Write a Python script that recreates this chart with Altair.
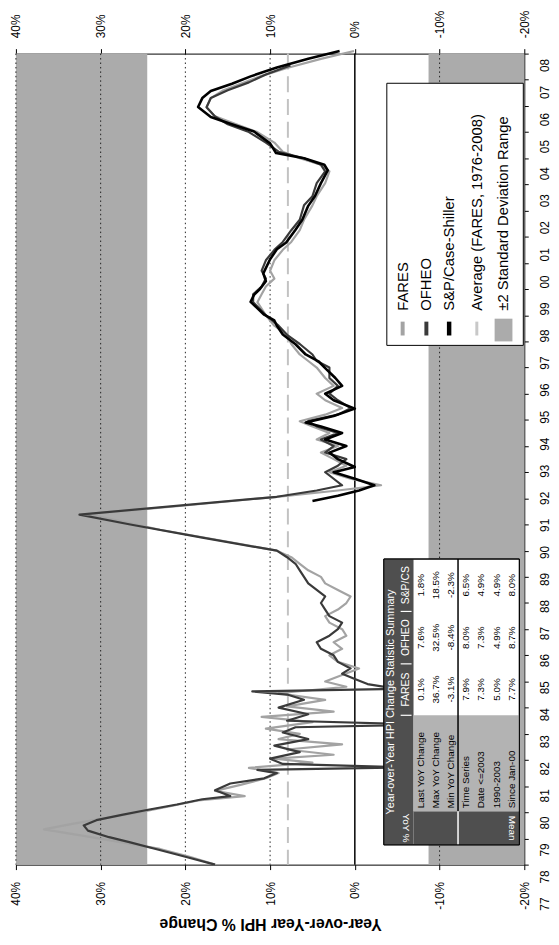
import altair as alt
import pandas as pd

FONT = "Liberation Sans"

# ---------------- data ----------------
pct_ticks = [-20, -10, 0, 10, 20, 30, 40]
grid_values = [40, 30, 20, 10, -10]
year_ticks = list(range(1977, 2009))
year_labels = [str(y)[2:] for y in year_ticks]
value_domain = [-20, 40]
year_domain = [1977, 2008]

average_fares = 7.9
band_low = -8.7
band_high = 24.5

# [year, YoY %]
fares = [
    [1977.0, 16.5], [1977.3, 19.5], [1977.6, 23.0], [1977.85, 27.5], [1978.1, 32.0], [1978.35, 36.7],
    [1978.55, 33.5], [1978.75, 30.0], [1979.0, 25.5], [1979.25, 21.5], [1979.45, 18.5], [1979.62, 13.0],
    [1979.82, 16.5], [1980.05, 13.5], [1980.3, 10.5], [1980.5, 9.0], [1980.7, 12.5], [1980.9, 5.0],
    [1981.05, 9.5], [1981.2, 2.5], [1981.4, 8.0], [1981.6, 1.5], [1981.8, 9.0], [1982.0, 6.5],
    [1982.2, 10.5], [1982.45, 5.0], [1982.65, 11.0], [1982.85, 2.5], [1983.05, 8.0], [1983.3, 3.5],
    [1983.55, 9.0], [1983.8, 1.0], [1984.0, 3.5], [1984.25, 1.5], [1984.5, -0.5], [1984.75, 2.0],
    [1985.0, 3.0], [1985.25, 1.5], [1985.5, 2.5], [1985.75, 1.0], [1986.0, 1.5], [1986.25, 3.0],
    [1986.5, 3.5], [1986.75, 2.0], [1987.0, 1.0], [1987.25, 0.5], [1987.5, 2.0], [1987.75, 3.5],
    [1988.0, 4.0], [1988.25, 5.5], [1988.5, 6.5], [1988.75, 7.5], [1989.0, 9.2], [1989.4, 16.0],
    [1989.8, 23.0], [1990.4, 31.5], [1990.7, 21.0], [1991.06, 9.2], [1991.3, 2.0], [1991.5, -3.1],
    [1991.75, 0.5], [1992.0, 3.0], [1992.25, 1.0], [1992.5, 2.5], [1992.75, 4.0], [1993.0, 2.0],
    [1993.25, 4.5], [1993.5, 3.0], [1993.75, 5.0], [1993.95, 6.5], [1994.2, 3.5], [1994.45, 1.5],
    [1994.75, 3.5], [1995.0, 4.5], [1995.3, 2.5], [1995.6, 3.5], [1996.0, 4.5], [1996.25, 5.5],
    [1996.5, 6.5], [1996.9, 7.5], [1997.25, 8.0], [1997.6, 9.5], [1998.0, 10.5], [1998.5, 11.5],
    [1998.8, 11.0], [1999.1, 10.5], [1999.4, 9.5], [1999.7, 10.0], [2000.1, 9.5], [2000.5, 8.5],
    [2000.8, 7.5], [2001.25, 6.5], [2001.65, 6.0], [2002.2, 5.0], [2002.55, 4.5], [2003.05, 3.5],
    [2003.5, 3.0], [2003.75, 4.0], [2004.0, 6.5], [2004.25, 8.5], [2004.6, 9.5], [2005.0, 11.5],
    [2005.3, 14.0], [2005.6, 16.5], [2005.95, 17.5], [2006.3, 17.0], [2006.6, 15.5], [2006.9, 13.0],
    [2007.15, 11.0], [2007.45, 8.0], [2007.8, 4.0], [2008.1, 0.1],
]

ofheo = [
    [1977.0, 16.5], [1977.3, 20.0], [1977.6, 23.5], [1977.85, 26.5], [1978.05, 29.0], [1978.3, 31.5],
    [1978.5, 32.0], [1978.7, 30.5], [1978.9, 27.5], [1979.1, 24.4], [1979.3, 21.0], [1979.5, 18.0],
    [1979.62, 14.7], [1979.84, 16.5], [1980.1, 14.7], [1980.3, 10.7], [1980.5, 9.2], [1980.62, 11.5],
    [1980.72, -6.0], [1980.85, 8.5], [1981.05, 10.0], [1981.3, 6.5], [1981.55, 9.5], [1981.8, 5.5],
    [1982.05, 8.5], [1982.25, 7.0], [1982.35, -8.4], [1982.5, 8.0], [1982.75, 5.5], [1983.0, 9.0],
    [1983.3, 6.0], [1983.5, 8.0], [1983.62, 12.1], [1983.72, -5.0], [1983.9, -1.5], [1984.1, 0.0],
    [1984.3, 1.5], [1984.5, 0.5], [1984.75, 2.0], [1985.0, 2.5], [1985.25, 4.0], [1985.5, 4.5],
    [1985.75, 3.0], [1986.0, 2.0], [1986.25, 1.5], [1986.5, 3.0], [1986.75, 3.5], [1987.0, 4.0],
    [1987.25, 3.5], [1987.5, 4.5], [1987.75, 5.5], [1988.0, 6.0], [1988.25, 6.5], [1988.5, 7.0],
    [1988.75, 8.0], [1989.0, 9.2], [1989.5, 18.0], [1990.0, 26.5], [1990.38, 32.5], [1991.06, 9.2],
    [1991.3, 4.5], [1991.5, 1.5], [1991.75, 2.5], [1992.0, 3.5], [1992.25, 2.0], [1992.5, 1.0],
    [1992.75, 3.5], [1993.0, 2.5], [1993.25, 4.0], [1993.5, 2.0], [1993.75, 4.5], [1993.95, 5.5],
    [1994.2, 2.0], [1994.45, 0.5], [1994.75, 2.0], [1995.0, 3.0], [1995.3, 2.0], [1995.6, 3.0],
    [1996.0, 3.0], [1996.25, 4.5], [1996.5, 5.0], [1996.9, 6.5], [1997.25, 8.0], [1997.6, 9.0],
    [1998.0, 10.5], [1998.5, 12.0], [1998.8, 12.0], [1999.1, 11.0], [1999.4, 10.5], [1999.7, 11.0],
    [2000.1, 10.5], [2000.5, 9.5], [2000.8, 8.5], [2001.25, 7.5], [2001.65, 6.5], [2002.2, 6.0],
    [2002.55, 5.0], [2003.05, 4.5], [2003.5, 3.5], [2003.75, 4.0], [2004.0, 6.0], [2004.25, 9.0],
    [2004.6, 10.5], [2005.0, 12.5], [2005.3, 15.0], [2005.6, 16.5], [2005.95, 17.5], [2006.3, 17.0],
    [2006.6, 15.0], [2006.9, 12.5], [2007.2, 10.5], [2007.55, 7.6],
]

spcs = [
    [1990.9, 5.0], [1991.1, 2.0], [1991.3, -0.5], [1991.5, -2.3], [1991.75, 0.0], [1992.0, 2.5],
    [1992.2, 0.0], [1992.5, 2.0], [1992.75, 3.0], [1993.0, 1.0], [1993.25, 3.5], [1993.5, 1.5],
    [1993.75, 4.0], [1993.9, 5.8], [1994.15, 2.5], [1994.43, 0.0], [1994.75, 2.5], [1995.0, 3.5],
    [1995.3, 1.5], [1995.6, 2.3], [1995.98, 3.5], [1996.24, 4.3], [1996.5, 5.8], [1996.89, 7.0],
    [1997.26, 8.5], [1997.6, 9.2], [1997.8, 9.5], [1998.02, 10.7], [1998.51, 12.3], [1998.78, 11.9],
    [1999.0, 11.2], [1999.3, 10.5], [1999.6, 10.8], [2000.14, 10.0], [2000.52, 9.2], [2000.78, 8.1],
    [2001.27, 7.0], [2001.65, 6.2], [2002.18, 5.5], [2002.56, 4.7], [2003.05, 4.0], [2003.54, 3.2],
    [2003.75, 3.6], [2004.0, 6.0], [2004.2, 9.3], [2004.57, 10.0], [2005.02, 11.9], [2005.32, 14.7],
    [2005.58, 17.0], [2005.96, 18.5], [2006.3, 18.0], [2006.57, 17.0], [2006.85, 14.5], [2007.13, 12.3],
    [2007.47, 9.2], [2007.8, 5.5], [2008.1, 1.8],
]

legend_names = ["FARES", "OFHEO", "S&P/Case-Shiller", "Average (FARES, 1976-2008)",
                "\u00b12 Standard Deviation Range"]

table_title = "Year-over-Year HPI Change Statistic Summary"
table_columns = ["FARES", "OFHEO", "S&P/CS"]
table_groups = ["YoY %", "Mean"]
table_row_labels = ["Last YoY Change", "Max YoY Change", "Min YoY Change",
                    "Time Series", "Date <=2003", "1990-2003", "Since Jan-00"]
table_values = [
    ["0.1%", "7.6%", "1.8%"],
    ["36.7%", "32.5%", "18.5%"],
    ["-3.1%", "-8.4%", "-2.3%"],
    ["7.9%", "8.0%", "6.5%"],
    ["7.3%", "7.3%", "4.9%"],
    ["5.0%", "4.9%", "4.9%"],
    ["7.7%", "8.7%", "8.0%"],
]

# ---------------- layout ----------------
W, H = 514, 820
PLOT_LEFT, PLOT_TOP = 16, 49  # page pixels of plot origin


def vx(px):
    return value_domain[1] - (px - PLOT_LEFT) * (value_domain[1] - value_domain[0]) / W


def ty(py):
    return year_domain[1] - (py - PLOT_TOP) * (year_domain[1] - year_domain[0]) / H


xs = alt.Scale(domain=value_domain, reverse=True, nice=False, zero=False)
ys = alt.Scale(domain=year_domain, nice=False, zero=False)

pct_axis_common = dict(
    values=pct_ticks, labelExpr="datum.value + '%'", labelAngle=270, labelFont=FONT,
    labelFontSize=12, labelColor="black", tickSize=5, tickColor="black", domainColor="black",
    domainWidth=1, grid=False, labelFlush=False, labelOverlap=False, labelBaseline="middle",
)
bottom_axis = alt.Axis(
    orient="bottom", labelAlign="right", labelPadding=12,
    title="Year-over-Year HPI % Change", titleAngle=180, titleBaseline="bottom", titleAlign="center",
    titleFont=FONT, titleFontSize=16, titleFontWeight="bold", titleColor="black", titlePadding=6,
    **pct_axis_common,
)
top_axis = alt.Axis(orient="top", labelAlign="left", labelPadding=11, title=None, **pct_axis_common)
year_axis = alt.Axis(
    orient="right", values=year_ticks, labels=False, tickSize=4, tickColor="black",
    domainColor="black", domainWidth=1, grid=False, title=None,
)

layers = []

# shaded +-2 std dev zones (carries bottom and right axes)
band_df = pd.DataFrame({"x1": [band_high, value_domain[0]], "x2": [value_domain[1], band_low],
                        "y1": [year_domain[0]] * 2, "y2": [year_domain[1]] * 2})
layers.append(alt.Chart(band_df).mark_rect(fill="#ababab").encode(
    x=alt.X("x1:Q", scale=xs, axis=bottom_axis), x2="x2:Q",
    y=alt.Y("y1:Q", scale=ys, axis=year_axis), y2="y2:Q"))

# dotted grid (carries top axis)
grid_df = pd.DataFrame({"g": grid_values})
layers.append(alt.Chart(grid_df).mark_rule(color="#222222", strokeWidth=1, strokeDash=[1.5, 3]).encode(
    x=alt.X("g:Q", scale=xs, axis=top_axis)))

# average line
layers.append(alt.Chart(pd.DataFrame({"a": [average_fares]})).mark_rule(
    color="#c2c2c2", strokeWidth=2, strokeDash=[16, 7]).encode(x=alt.X("a:Q", scale=xs, axis=None)))

# zero line
layers.append(alt.Chart(pd.DataFrame({"z": [0]})).mark_rule(color="black", strokeWidth=1.5).encode(
    x=alt.X("z:Q", scale=xs, axis=None)))


def series_layer(points, color, width):
    df = pd.DataFrame(points, columns=["t", "v"])
    return alt.Chart(df).mark_line(color=color, strokeWidth=width, strokeJoin="round").encode(
        x=alt.X("v:Q", scale=xs, axis=None), y=alt.Y("t:Q", scale=ys, axis=None), order=alt.Order("t:Q"))


layers.append(series_layer(fares, "#a3a3a3", 2.2))
layers.append(series_layer(ofheo, "#3a3a3a", 2.2))
layers.append(series_layer(spcs, "#000000", 2.6))


def rect_layer(rows, fill, stroke=None, sw=0):
    df = pd.DataFrame(rows, columns=["x1", "x2", "y1", "y2"])
    kw = dict(fill=fill)
    if stroke:
        kw.update(stroke=stroke, strokeWidth=sw)
    return alt.Chart(df).mark_rect(**kw).encode(
        x=alt.X("x1:Q", scale=xs, axis=None), x2="x2:Q", y=alt.Y("y1:Q", scale=ys, axis=None), y2="y2:Q")


def box(px1, px2, py1, py2):
    return [vx(px1), vx(px2), ty(py1), ty(py2)]


def text_layer(rows, size, color="black", angle=270, align="left", weight="normal"):
    df = pd.DataFrame(rows, columns=["x", "y", "label"])
    return alt.Chart(df).mark_text(font=FONT, fontSize=size, color=color, angle=angle, align=align,
                                   baseline="middle", fontWeight=weight).encode(
        x=alt.X("x:Q", scale=xs, axis=None), y=alt.Y("y:Q", scale=ys, axis=None), text="label:N")


def vseg_layer(rows):
    # rows: page x, page y1, page y2, color, width
    df = pd.DataFrame([[vx(a), ty(b), ty(c), col, w] for a, b, c, col, w in rows],
                      columns=["x", "y1", "y2", "c", "w"])
    return alt.Chart(df).mark_rule().encode(
        x=alt.X("x:Q", scale=xs, axis=None), y=alt.Y("y1:Q", scale=ys, axis=None), y2="y2:Q",
        color=alt.Color("c:N", scale=None), strokeWidth=alt.StrokeWidth("w:Q", scale=None))


def hseg_layer(rows):
    # rows: page x1, page x2, page y, color, width
    df = pd.DataFrame([[vx(a), vx(b), ty(c), col, w] for a, b, c, col, w in rows],
                      columns=["x1", "x2", "y", "c", "w"])
    return alt.Chart(df).mark_rule().encode(
        x=alt.X("x1:Q", scale=xs, axis=None), x2="x2:Q", y=alt.Y("y:Q", scale=ys, axis=None),
        color=alt.Color("c:N", scale=None), strokeWidth=alt.StrokeWidth("w:Q", scale=None))


# ---------------- year labels (right side, spaced like the scanned page) ----------------
YL_X, YL_TOP, YL_STEP = 551, 61, 27.35
layers.append(text_layer([[vx(YL_X), ty(YL_TOP + (year_domain[1] - y) * YL_STEP), lab]
                          for y, lab in zip(year_ticks, year_labels)], 12, align="center"))

# ---------------- legend ----------------
legend_x = [407, 431, 454, 482, 509]
legend_sym_colors = ["#a3a3a3", "#3a3a3a", "#000000", "#c8c8c8"]
legend_sym_widths = [4, 4, 4.5, 3]
layers.append(rect_layer([box(391, 529, 79, 344)], "white", "black", 1))
layers.append(vseg_layer([[legend_x[i], 320, 334, legend_sym_colors[i], legend_sym_widths[i]]
                          for i in range(4)]))
layers.append(rect_layer([box(500, 518, 317, 340)], "#ababab"))
layers.append(text_layer([[vx(legend_x[i]), ty(309), legend_names[i]] for i in range(5)], 15))

# ---------------- statistics table ----------------
T_L, T_R, T_T, T_B = 388, 525, 560, 849
row_edges = [388, 403, 418, 433, 448, 463, 479, 494, 510, 525]
col_edges = [849, 815, 718, 666, 613, 560]  # group | label | FARES | OFHEO | S&P
row_mid = [(row_edges[i] + row_edges[i + 1]) / 2 for i in range(9)]
col_mid = [(col_edges[i] + col_edges[i + 1]) / 2 for i in range(5)]

layers.append(rect_layer([box(T_L, T_R, T_T, T_B)], "white", "black", 1))
layers.append(rect_layer([box(T_L, row_edges[2], T_T, T_B), box(row_edges[2], T_R, col_edges[1], T_B)],
                         "#4f4f4f"))
layers.append(rect_layer([box(row_edges[2], T_R, col_edges[2], col_edges[1])], "#b3b3b3"))
layers.append(vseg_layer([[row_edges[5], T_T, col_edges[1], "black", 1.5],
                          [row_edges[5], col_edges[1], T_B, "white", 1.5]]))
layers.append(hseg_layer([[row_edges[1] + 2, row_edges[2] - 2, col_edges[c], "white", 1.2]
                          for c in (2, 3, 4)]))
layers.append(rect_layer([box(T_L, T_R, T_T, T_B)], "transparent", "black", 1))

layers.append(text_layer([[vx(row_mid[0]), ty((T_T + T_B) / 2), table_title]], 11, "white", align="center"))
layers.append(text_layer([[vx(row_mid[1]), ty(col_mid[2 + j]), table_columns[j]] for j in range(3)],
                         10.5, "white", align="center"))
layers.append(text_layer([[vx(row_mid[1]), ty(col_mid[0]), table_groups[0]],
                          [vx(row_mid[8]), ty(col_mid[0]), table_groups[1]]],
                         10, "white", angle=90, align="center"))
layers.append(text_layer([[vx(row_mid[2 + i]), ty(col_edges[1] - 3), table_row_labels[i]]
                          for i in range(7)], 10))
layers.append(text_layer([[vx(row_mid[2 + i]), ty(col_mid[2 + j]), table_values[i][j]]
                          for i in range(7) for j in range(3)], 10, align="center"))

chart = alt.layer(*layers).resolve_axis(x="independent", y="independent").properties(
    width=W, height=H,
    padding={"left": 8, "top": 41, "right": 27, "bottom": 63},
    autosize=alt.AutoSizeParams(type="none"),
    background="white",
).configure_view(stroke=None)

chart.save("out.html", embed_options={"renderer": "svg", "actions": False})
